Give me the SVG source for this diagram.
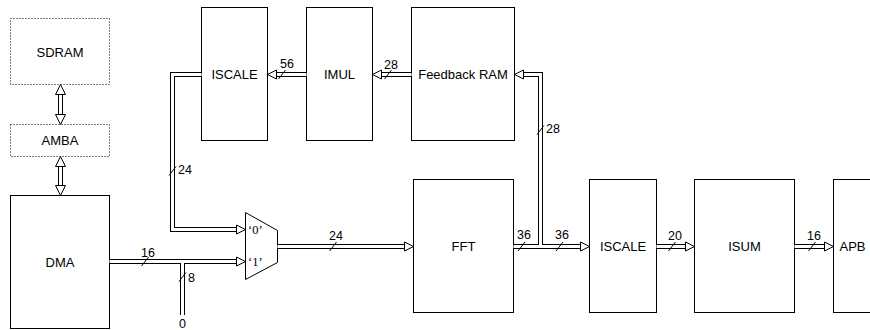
<svg xmlns="http://www.w3.org/2000/svg" width="870" height="330" viewBox="0 0 870 330">
<style>
.box{fill:#fff;stroke:#000;stroke-width:1}
.dot{fill:#fff;stroke:#000;stroke-width:1;stroke-dasharray:1 2}
.po{fill:none;stroke:#000;stroke-width:5}
.pi{fill:none;stroke:#fff;stroke-width:3}
.head{fill:#fff;stroke:#000;stroke-width:1;stroke-linejoin:miter}
.sl{stroke:#000;stroke-width:1}
.t{font-family:"Liberation Sans",Arial,sans-serif;font-size:13px;text-anchor:middle;fill:#000}
.n{font-family:"Liberation Sans",Arial,sans-serif;font-size:12.5px;fill:#000}
.q{font-family:"Liberation Serif","Times New Roman",serif;font-size:12.5px;fill:#000}
</style>
<defs>
<path id="ah" class="head" d="M-9,-4.5 L0,0 L-9,4.5 Z"/>
<path id="av" class="head" d="M-10,-5 L0,0 L-10,5 Z"/>
<line id="sl" class="sl" x1="-3.5" y1="4.5" x2="3.5" y2="-4.5"/>
</defs>

<g id="sdram"><rect class="dot" x="10.5" y="18.5" width="99" height="66"/><text class="t" x="60" y="57">SDRAM</text></g>
<g id="amba"><rect class="dot" x="10.5" y="124.5" width="99" height="32"/><text class="t" x="60" y="145">AMBA</text></g>
<g id="dma"><rect class="box" x="10.5" y="195.5" width="99" height="133"/><text class="t" x="60" y="267">DMA</text></g>
<g id="iscale1"><rect class="box" x="201.5" y="7.5" width="66" height="133"/><text class="t" x="234.5" y="79">ISCALE</text></g>
<g id="imul"><rect class="box" x="306.5" y="7.5" width="66" height="133"/><text class="t" x="339.5" y="79">IMUL</text></g>
<g id="fbram"><rect class="box" x="411.5" y="7.5" width="103" height="133"/><text class="t" x="463" y="79">Feedback RAM</text></g>
<g id="mux"><polygon class="box" points="245.5,212.5 277.5,230.5 277.5,262.5 245.5,279.5"/><text class="q" x="248" y="234">‘0’</text><text class="q" x="248" y="266">‘1’</text></g>
<g id="fft"><rect class="box" x="413.5" y="179.5" width="100" height="133"/><text class="t" x="463.5" y="251">FFT</text></g>
<g id="iscale2"><rect class="box" x="589.5" y="179.5" width="67" height="133"/><text class="t" x="623" y="251">ISCALE</text></g>
<g id="isum"><rect class="box" x="694.5" y="179.5" width="100" height="133"/><text class="t" x="744.5" y="251">ISUM</text></g>
<g id="apb"><rect class="box" x="833.5" y="179.5" width="60" height="133"/><text class="t" x="852.5" y="251">APB</text></g>

<g id="connectors">
<g class="po">
<path d="M60.5,94.5 V114.5"/>
<path d="M60.5,166.5 V185.5"/>
<path d="M201.5,74.5 H172.5 V229.5 H236.5"/>
<path d="M109.5,261.5 H236.5"/>
<path d="M182.5,315 V261.5"/>
<path d="M277.5,246.5 H404.5"/>
<path d="M513.5,246.5 H580.5"/>
<path d="M540.5,246.5 V74.5 H523.5"/>
<path d="M306.5,74.5 H276.5"/>
<path d="M411.5,74.5 H381.5"/>
<path d="M656.5,246.5 H685.5"/>
<path d="M794.5,246.5 H824.5"/>
</g>
<g class="pi">
<path d="M60.5,94.5 V114.5"/>
<path d="M60.5,166.5 V185.5"/>
<path d="M201.5,74.5 H172.5 V229.5 H236.5"/>
<path d="M109.5,261.5 H236.5"/>
<path d="M182.5,315 V261.5"/>
<path d="M277.5,246.5 H404.5"/>
<path d="M513.5,246.5 H580.5"/>
<path d="M540.5,246.5 V74.5 H523.5"/>
<path d="M306.5,74.5 H276.5"/>
<path d="M411.5,74.5 H381.5"/>
<path d="M656.5,246.5 H685.5"/>
<path d="M794.5,246.5 H824.5"/>
</g>
<use href="#av" transform="translate(60.5,84.5) rotate(-90)"/>
<use href="#av" transform="translate(60.5,124.5) rotate(90)"/>
<use href="#av" transform="translate(60.5,156.5) rotate(-90)"/>
<use href="#av" transform="translate(60.5,195.5) rotate(90)"/>
<use href="#ah" transform="translate(245.5,229.5)"/>
<use href="#ah" transform="translate(245.5,261.5)"/>
<use href="#ah" transform="translate(413.5,246.5)"/>
<use href="#ah" transform="translate(589.5,246.5)"/>
<use href="#ah" transform="translate(514.5,74.5) rotate(180)"/>
<use href="#ah" transform="translate(267.5,74.5) rotate(180)"/>
<use href="#ah" transform="translate(372.5,74.5) rotate(180)"/>
<use href="#ah" transform="translate(694.5,246.5)"/>
<use href="#ah" transform="translate(833.5,246.5)"/>

<use href="#sl" transform="translate(172.5,171)"/>
<use href="#sl" transform="translate(540.5,130)"/>
<use href="#sl" transform="translate(282,74.5)"/>
<use href="#sl" transform="translate(388,74.5)"/>
<use href="#sl" transform="translate(145,261.5)"/>
<use href="#sl" transform="translate(182.5,277)"/>
<use href="#sl" transform="translate(333,246.5)"/>
<use href="#sl" transform="translate(521.5,246.5)"/>
<use href="#sl" transform="translate(559.5,246.5)"/>
<use href="#sl" transform="translate(672,246.5)"/>
<use href="#sl" transform="translate(812,246.5)"/>

<text class="n" x="178" y="174">24</text>
<text class="n" x="546" y="133">28</text>
<text class="n" x="280" y="68">56</text>
<text class="n" x="384" y="69">28</text>
<text class="n" x="141" y="257">16</text>
<text class="n" x="188" y="282">8</text>
<text class="n" x="182.5" y="328" text-anchor="middle">0</text>
<text class="n" x="329" y="240">24</text>
<text class="n" x="517" y="239">36</text>
<text class="n" x="555" y="239">36</text>
<text class="n" x="668" y="240">20</text>
<text class="n" x="807" y="240">16</text>
</g>
</svg>
